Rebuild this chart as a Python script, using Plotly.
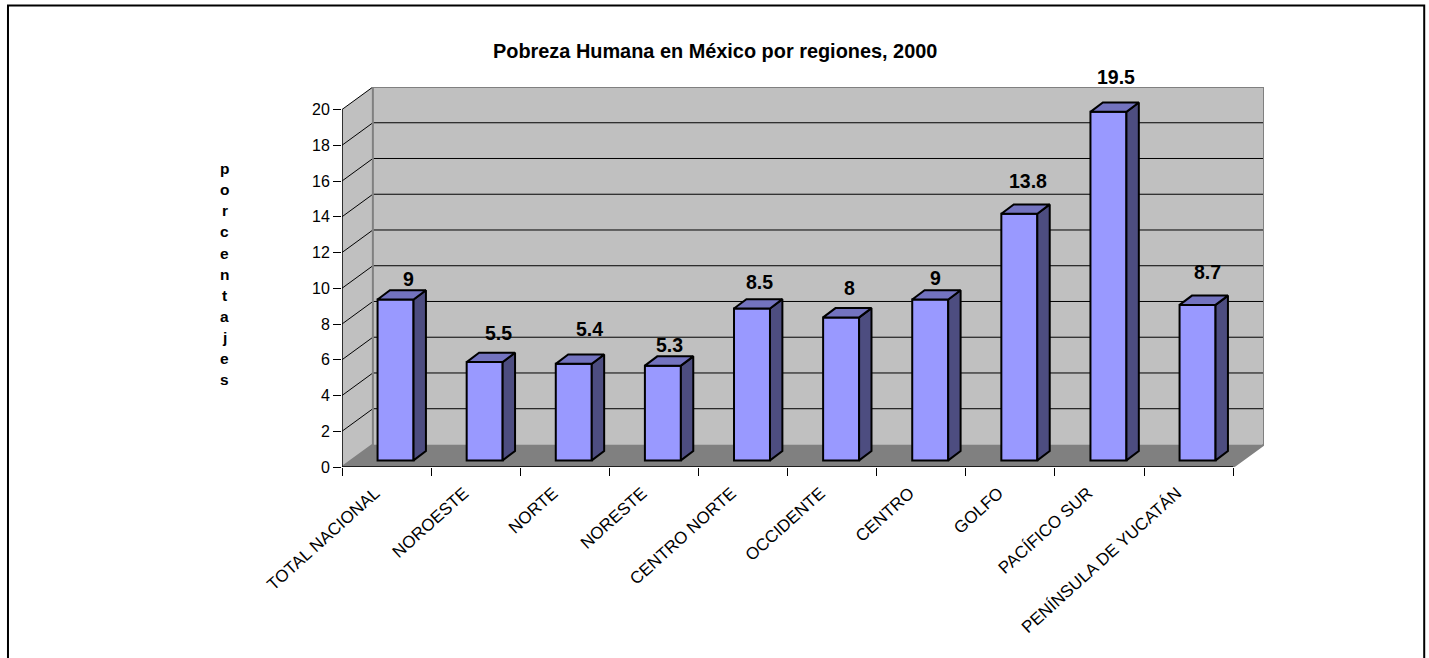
import plotly.graph_objects as go

categories = ["TOTAL NACIONAL", "NOROESTE", "NORTE", "NORESTE", "CENTRO NORTE",
              "OCCIDENTE", "CENTRO", "GOLFO", "PACÍFICO SUR", "PENÍNSULA DE YUCATÁN"]
values = [9, 5.5, 5.4, 5.3, 8.5, 8, 9, 13.8, 19.5, 8.7]
y_ticks = [0, 2, 4, 6, 8, 10, 12, 14, 16, 18, 20]
title_text = "Pobreza Humana en México por regiones, 2000"
y_title = "porcentajes"

# manual placement of the data labels, in px from the bar's front top edge
label_dx = [13, 13.5, 16, 7, 7, 8, 5, 9, 7.5, 10]
label_dy = [21, 29, 35, 21, 26, 29, 22, 33, 35, 33]

FONT = "Liberation Sans, Arial, sans-serif"
W, H = 1429, 658
L, R, T, B = 341.7, 1264.2, 87.0, 466.6
PX_X = (1233.3 - 341.7) / 10
PX_Y = (466.6 - 109.6) / 20
WALL_DX = (R - 1233.3) / PX_X
WALL_DY = (466.6 - 444.1) / PX_Y
BAR_OFF_X = 9 / PX_X
BAR_OFF_Y = 6.6 / PX_Y
BAR_W = 36 / PX_X
BAR_DX = 12.4 / PX_X
BAR_DY = 9.3 / PX_Y
X0, X1 = -0.5, len(categories) - 0.5
Y_TOP = max(y_ticks)

WALL, FLOOR, EDGE = "#C0C0C0", "#808080", "#808080"
FRONT, SIDE, TOP = "#9999FF", "#4D4D80", "#7373BF"

def poly(points):
    return "M " + " L ".join(f"{x},{y}" for x, y in points) + " Z"

shapes = [
    dict(type="path", layer="below", xref="x", yref="y", fillcolor=WALL, line=dict(width=0),
         path=poly([(X0 + WALL_DX, WALL_DY), (X1 + WALL_DX, WALL_DY),
                    (X1 + WALL_DX, Y_TOP + WALL_DY), (X0 + WALL_DX, Y_TOP + WALL_DY)])),
    dict(type="path", layer="below", xref="x", yref="y", fillcolor=WALL, line=dict(width=0),
         path=poly([(X0, 0), (X0 + WALL_DX, WALL_DY), (X0 + WALL_DX, Y_TOP + WALL_DY), (X0, Y_TOP)])),
    dict(type="path", layer="below", xref="x", yref="y", fillcolor=FLOOR, line=dict(width=0),
         path=poly([(X0, 0), (X1, 0), (X1 + WALL_DX, WALL_DY), (X0 + WALL_DX, WALL_DY)])),
]
for v in y_ticks[1:-1]:
    shapes.append(dict(type="line", layer="below", xref="x", yref="y",
                       x0=X0 + WALL_DX, x1=X1 + WALL_DX, y0=v + WALL_DY, y1=v + WALL_DY,
                       line=dict(color="#000000", width=1)))
for v in y_ticks[1:]:
    shapes.append(dict(type="line", layer="below", xref="x", yref="y",
                       x0=X0, x1=X0 + WALL_DX, y0=v, y1=v + WALL_DY,
                       line=dict(color="#000000", width=1)))
shapes.append(dict(type="path", layer="below", xref="x", yref="y", line=dict(color=EDGE, width=2),
                   path=f"M {X0},0 L {X0 + WALL_DX},{WALL_DY} L {X0 + WALL_DX},{Y_TOP + WALL_DY} "
                        f"L {X1 + WALL_DX},{Y_TOP + WALL_DY} L {X1 + WALL_DX},{WALL_DY} L {X1},0"))
# outer frame of the sheet (runs off the bottom of the picture)
shapes.append(dict(type="path", xref="paper", yref="paper", line=dict(color="#000000", width=2),
                   path=f"M {(7.5 - L) / (R - L)},{(B - 700) / (B - T)} "
                        f"L {(7.5 - L) / (R - L)},{(B - 5.5) / (B - T)} "
                        f"L {(1424.5 - L) / (R - L)},{(B - 5.5) / (B - T)} "
                        f"L {(1424.5 - L) / (R - L)},{(B - 700) / (B - T)}"))

fig = go.Figure()

centres = list(range(len(categories)))
fig.add_trace(go.Bar(x=[c + BAR_OFF_X for c in centres], y=values, base=BAR_OFF_Y, width=BAR_W,
                     marker=dict(color=FRONT, line=dict(color="#000000", width=2)),
                     hoverinfo="skip", showlegend=False))

side_x, side_y, top_x, top_y = [], [], [], []
for c, v in zip(centres, values):
    xl = c + BAR_OFF_X - BAR_W / 2
    xr = c + BAR_OFF_X + BAR_W / 2
    y0 = BAR_OFF_Y
    y1 = BAR_OFF_Y + v
    side_x += [xr, xr + BAR_DX, xr + BAR_DX, xr, xr, None]
    side_y += [y0, y0 + BAR_DY, y1 + BAR_DY, y1, y0, None]
    top_x += [xl, xr, xr + BAR_DX, xl + BAR_DX, xl, None]
    top_y += [y1, y1, y1 + BAR_DY, y1 + BAR_DY, y1, None]
for xs, ys, col in ((side_x, side_y, SIDE), (top_x, top_y, TOP)):
    fig.add_trace(go.Scatter(x=xs, y=ys, mode="lines", fill="toself", fillcolor=col,
                             line=dict(color="#000000", width=2), hoverinfo="skip", showlegend=False))

# axis lines, which stop at the front corners
fig.add_trace(go.Scatter(x=[X0, X0, X1], y=[Y_TOP, 0, 0], mode="lines", cliponaxis=False,
                         line=dict(color="#000000", width=1.5), hoverinfo="skip", showlegend=False))

annotations = []
for c, v, dx, dy in zip(centres, values, label_dx, label_dy):
    annotations.append(dict(x=c + BAR_OFF_X, y=BAR_OFF_Y + v, xref="x", yref="y", text=f"<b>{v:g}</b>",
                            showarrow=False, xshift=dx, yshift=dy, xanchor="center", yanchor="middle",
                            font=dict(family=FONT, size=19.5, color="#000000")))
annotations.append(dict(x=(714.5 - L) / (R - L), y=(B - 51) / (B - T), xref="paper", yref="paper",
                        text=f"<b>{title_text}</b>", showarrow=False, xanchor="center", yanchor="middle",
                        font=dict(family=FONT, size=19.9, color="#000000")))
for k, ch in enumerate(y_title):
    annotations.append(dict(x=(224.5 - L) / (R - L), y=(B - (168.5 + 21.1 * k)) / (B - T),
                            xref="paper", yref="paper", text=f"<b>{ch}</b>", showarrow=False,
                            xanchor="center", yanchor="middle",
                            font=dict(family=FONT, size=15.5, color="#000000")))

fig.update_layout(
    width=W, height=H, autosize=False, showlegend=False,
    paper_bgcolor="#FFFFFF", plot_bgcolor="rgba(0,0,0,0)",
    margin=dict(l=L, r=W - R, t=T, b=H - B, pad=0),
    font=dict(family=FONT, color="#000000"),
    shapes=shapes, annotations=annotations,
    xaxis=dict(range=[X0, X1 + WALL_DX], automargin=False, showgrid=False, zeroline=False, showline=False,
               tickmode="array", tickvals=[c - 0.13 for c in centres], ticktext=categories, tickangle=-42,
               ticks="", ticklen=0, tickfont=dict(size=17, family=FONT, color="#000000"),
               ticklabelstandoff=12,
               minor=dict(tickmode="array", tickvals=[X0 + k for k in range(len(categories) + 1)],
                          ticks="outside", ticklen=8, tickwidth=1, tickcolor="#000000", showgrid=False)),
    yaxis=dict(range=[0, Y_TOP + WALL_DY], automargin=False, showgrid=False, zeroline=False, showline=False,
               tickmode="array", tickvals=y_ticks, ticktext=[str(t) for t in y_ticks],
               ticks="outside", ticklen=8, tickwidth=1, tickcolor="#000000",
               tickfont=dict(size=16, family=FONT, color="#000000")),
)

fig.write_html("out.html", config={"displayModeBar": False},
               post_script="document.body.style.margin='0';document.documentElement.style.overflow='hidden';")
